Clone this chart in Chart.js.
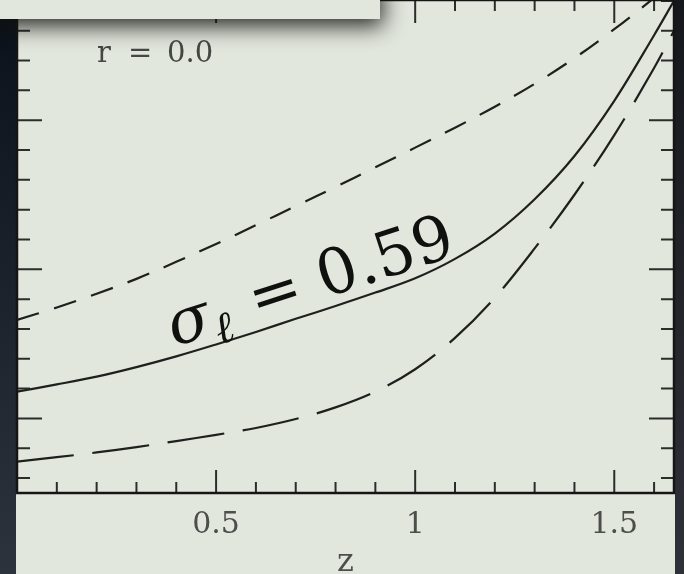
<!DOCTYPE html>
<html>
<head>
<meta charset="utf-8">
<script src="https://cdn.jsdelivr.net/npm/chart.js"></script>
<style>
  html, body { margin:0; padding:0; background:#1a1f26; }
  canvas { display:block; }
</style>
</head>
<body>
<canvas id="myChart" width="684" height="574"></canvas>
<script>
// redshift grid
var zValues   = [0, 0.1, 0.2, 0.3, 0.4, 0.5, 0.6, 0.7, 0.8, 0.9, 1.0, 1.1, 1.2, 1.3, 1.4, 1.5, 1.6, 1.65];
// upper (short dash), sigma = 0.59 (solid), lower (long dash)
var upperCurve = [0.83, 0.872, 0.918, 0.968, 1.025, 1.085, 1.148, 1.212, 1.276, 1.342, 1.408, 1.475, 1.545, 1.622, 1.708, 1.805, 1.91, 1.965];
var midCurve   = [0.59, 0.614, 0.64, 0.672, 0.708, 0.748, 0.79, 0.834, 0.877, 0.922, 0.97, 1.035, 1.12, 1.235, 1.38, 1.565, 1.785, 1.9];
var lowerCurve = [0.355, 0.37, 0.386, 0.404, 0.424, 0.445, 0.468, 0.498, 0.537, 0.59, 0.665, 0.77, 0.905, 1.07, 1.25, 1.45, 1.675, 1.8];
var xTickLabels = [0.5, 1, 1.5];
var xMinorStep = 0.1, yMinorStep = 0.1, majorStep = 0.5;

var panel = 'rgb(226,231,222)';
var ink = '#1e201d';
var serif = '"DejaVu Serif"';

function pts(ys){
  return zValues.map(function(z, i){ return {x: z, y: ys[i]}; });
}

var frame = {
  id: 'frame',
  beforeDraw: function(chart){
    var c = chart.ctx, W = chart.width, H = chart.height, a = chart.chartArea;
    c.save();
    var gl = c.createLinearGradient(0, 0, 0, H);
    gl.addColorStop(0, '#0b111a');
    gl.addColorStop(1, '#2c333d');
    c.fillStyle = gl;
    c.fillRect(0, 0, W, H);
    var gr = c.createLinearGradient(0, 0, 0, H);
    gr.addColorStop(0, '#14171b');
    gr.addColorStop(1, '#2e3238');
    c.fillStyle = gr;
    c.fillRect(a.right, 0, W - a.right, H);
    c.fillStyle = panel;
    c.fillRect(a.left - 1, 0, a.right - a.left + 2, H);
    c.restore();
  },
  afterDatasetsDraw: function(chart){
    var c = chart.ctx, a = chart.chartArea;
    var xs = chart.scales.x, ys = chart.scales.y;
    c.save();
    c.strokeStyle = '#2b2d2a';
    c.lineWidth = 2;
    c.beginPath();
    // inward ticks on all four sides
    for (var v = 0; v <= xs.max + 1e-6; v += xMinorStep){
      var px = xs.getPixelForValue(v);
      var big = Math.abs(v / majorStep - Math.round(v / majorStep)) < 1e-6;
      var len = big ? 23 : 11;
      c.moveTo(px, a.bottom); c.lineTo(px, a.bottom - len);
      c.moveTo(px, a.top); c.lineTo(px, a.top + len);
    }
    for (var w = 0.3; w <= ys.max + 1e-6; w += yMinorStep){
      var py = ys.getPixelForValue(w);
      var bigy = Math.abs(w / majorStep - Math.round(w / majorStep)) < 1e-6;
      var leny = bigy ? 25 : 13;
      c.moveTo(a.left, py); c.lineTo(a.left + leny, py);
      c.moveTo(a.right, py); c.lineTo(a.right - leny, py);
    }
    c.stroke();
    c.strokeStyle = '#141514';
    c.lineWidth = 2.5;
    c.strokeRect(a.left, a.top, a.right - a.left, a.bottom - a.top);

    // r label
    c.fillStyle = '#454744';
    c.font = '29px "DejaVu Serif"';
    c.textBaseline = 'alphabetic';
    c.fillText('r', a.left + 80, 62);
    c.fillText('=', a.left + 111, 62);
    c.fillText('0.0', a.left + 150, 62);

    // sigma annotation along the solid curve
    var ax = xs.getPixelForValue(0.395), ay = ys.getPixelForValue(0.74);
    c.translate(ax, ay);
    c.rotate(-18 * Math.PI / 180);
    c.fillStyle = '#0f110e';
    c.font = 'italic 63px ' + serif;
    c.fillText('σ', 0, 0);
    c.font = 'italic 44px ' + serif;
    c.fillText('ℓ', 44, 12);
    c.font = '63px ' + serif;
    c.fillText('=', 86, 0);
    c.fillText('0.59', 158, 0);
    c.restore();
  },
  afterDraw: function(chart){
    var c = chart.ctx;
    c.save();
    c.shadowColor = 'rgba(15,18,14,0.9)';
    c.shadowBlur = 22;
    c.shadowOffsetX = 3;
    c.shadowOffsetY = 7;
    c.fillStyle = panel;
    c.fillRect(-20, -20, 400, 39);
    c.restore();
  }
};

var ctx = document.getElementById('myChart').getContext('2d');
var chart = new Chart(ctx, {
  type: 'line',
  data: {
    datasets: [
      { data: pts(upperCurve), borderColor: ink, borderWidth: 2.2, borderDash: [23, 16], pointRadius: 0, tension: 0.35 },
      { data: pts(midCurve),   borderColor: ink, borderWidth: 2.2, pointRadius: 0, tension: 0.35 },
      { data: pts(lowerCurve), borderColor: ink, borderWidth: 2.2, borderDash: [57, 19], pointRadius: 0, tension: 0.35 }
    ]
  },
  options: {
    responsive: false,
    animation: false,
    layout: { padding: { left: 17, right: 10, top: 0, bottom: 0 } },
    plugins: { legend: { display: false }, tooltip: { enabled: false } },
    scales: {
      x: {
        type: 'linear', min: 0, max: 1.65,
        grid: { display: false, drawTicks: false },
        border: { display: false },
        afterBuildTicks: function(s){ s.ticks = xTickLabels.map(function(v){ return {value: v}; }); },
        ticks: { font: { family: 'DejaVu Serif', size: 30 }, color: '#4c4e4b', padding: 14, maxRotation: 0, autoSkip: false,
                 callback: function(v){ return String(v); } },
        title: { display: true, text: 'z', font: { family: 'DejaVu Serif', size: 32 }, color: '#4c4e4b', padding: { top: 0, bottom: -8 } },
        afterFit: function(s){ s.height = 81; }
      },
      y: { type: 'linear', min: 0.25, max: 1.903, display: false }
    }
  },
  plugins: [frame]
});
</script>
</body>
</html>
